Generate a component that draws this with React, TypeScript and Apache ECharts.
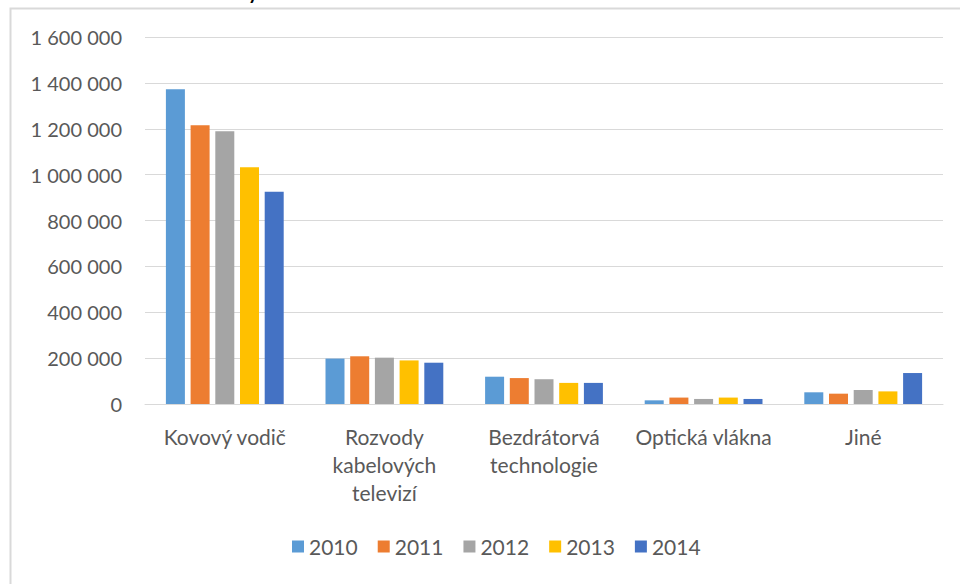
import React, { useEffect, useRef } from "react";
import * as echarts from "echarts";

const categories = ["Kovový vodič", "Rozvody\nkabelových\ntelevizí", "Bezdrátorvá\ntechnologie", "Optická vlákna", "Jiné"];
const years = ["2010", "2011", "2012", "2013", "2014"];
const s2010 = [1372000, 198000, 119000, 16000, 51000];
const s2011 = [1215000, 208000, 113000, 28000, 45000];
const s2012 = [1189000, 202000, 108000, 22000, 61000];
const s2013 = [1032000, 190000, 92000, 28000, 55000];
const s2014 = [925000, 180000, 92000, 22000, 135000];
const colors = ["#5B9BD5", "#ED7D31", "#A5A5A5", "#FFC000", "#4472C4"];
const yTicksMax = 1600000;
const yInterval = 200000;

const FONT = "Lato, 'Open Sans', sans-serif";
const TXT = "#595959";

export default function App() {
  const ref = useRef<HTMLDivElement>(null);
  useEffect(() => {
    if (!ref.current) return;
    const chart = echarts.init(ref.current, null, { renderer: "svg" });
    const seriesData = [s2010, s2011, s2012, s2013, s2014];
    chart.setOption({
      animation: false,
      textStyle: { fontFamily: FONT },
      graphic: [
        {
          type: "rect",
          shape: { x: 10.5, y: 8.5, width: 1000, height: 1000 },
          style: { fill: "none", stroke: "#D9D9D9", lineWidth: 2 },
          silent: true,
        },
        {
          type: "text",
          x: 247,
          y: -25,
          style: { text: "y", fill: "#000", font: "26px " + FONT },
          silent: true,
        },
      ],
      legend: {
        data: years,
        left: 287,
        top: 531,
        itemWidth: 12,
        itemHeight: 12,
        itemGap: 20,
        icon: "rect",
        textStyle: { color: TXT, fontSize: 21, fontFamily: FONT },
      },
      grid: { left: 145, right: 17, top: 37, bottom: 180, containLabel: false },
      xAxis: {
        type: "category",
        data: categories,
        axisLine: { lineStyle: { color: "#D9D9D9", width: 1 } },
        axisTick: { show: false },
        axisLabel: {
          color: TXT,
          fontSize: 21,
          fontFamily: FONT,
          lineHeight: 28,
          margin: 18,
          interval: 0,
        },
      },
      yAxis: {
        type: "value",
        min: 0,
        max: yTicksMax,
        interval: yInterval,
        axisLine: { show: false },
        axisTick: { show: false },
        splitLine: { lineStyle: { color: "#D9D9D9", width: 1 } },
        axisLabel: {
          color: TXT,
          fontSize: 20,
          fontFamily: FONT,
          margin: 23,
          formatter: (v: number) => String(v).replace(/\B(?=(\d{3})+(?!\d))/g, " "),
        },
      },
      series: years.map((y, i) => ({
        name: y,
        type: "bar",
        data: seriesData[i],
        barWidth: 19,
        barGap: "30%",
        itemStyle: { color: colors[i] },
      })),
    });
    return () => chart.dispose();
  }, []);
  return <div ref={ref} style={{ position: "fixed", left: 0, top: 0, width: 960, height: 584, background: "#fff" }} />;
}
